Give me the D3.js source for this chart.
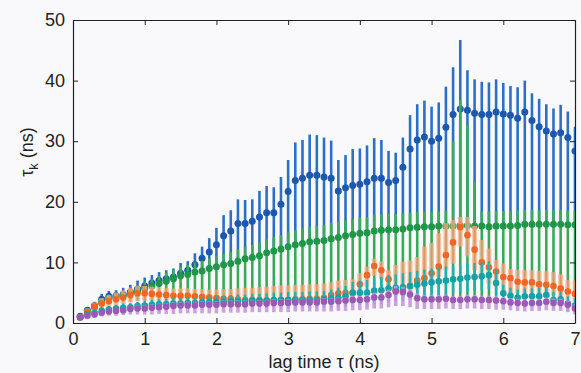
<!DOCTYPE html>
<html><head><meta charset="utf-8">
<script src="https://cdn.jsdelivr.net/npm/d3@7"></script>
<style>
html,body{margin:0;padding:0;background:#f9f9fc;}
svg{display:block;font-family:"Liberation Sans",Arial,Helvetica,sans-serif;}
</style></head><body>
<svg id="c" width="581" height="373"></svg>
<script>
const lag = [0.1,0.2,0.3,0.4,0.5,0.6,0.7,0.8,0.9,1.0,1.1,1.2,1.3,1.4,1.5,1.6,1.7,1.8,1.9,2.0,2.1,2.2,2.3,2.4,2.5,2.6,2.7,2.8,2.9,3.0,3.1,3.2,3.3,3.4,3.5,3.6,3.7,3.8,3.9,4.0,4.1,4.2,4.3,4.4,4.5,4.6,4.7,4.8,4.9,5.0,5.1,5.2,5.3,5.4,5.5,5.6,5.7,5.8,5.9,6.0,6.1,6.2,6.3,6.4,6.5,6.6,6.7,6.8,6.9,7.0];

const blueMean = [1.1,2.1,2.9,3.9,4.4,4.5,4.7,5.1,5.6,6.1,6.6,7.0,7.3,7.6,8.2,8.7,9.6,10.7,11.7,12.9,14.4,15.2,16.4,16.4,16.8,17.5,18.2,18.2,19.6,21.7,23.5,23.9,24.4,24.4,24.1,23.9,21.8,22.3,22.7,22.9,23.3,23.9,23.9,23.2,23.5,25.7,28.7,30.2,30.7,30.0,30.5,32.3,34.4,35.3,35.1,34.6,34.4,34.4,34.8,34.5,34.3,33.8,34.8,33.4,32.4,31.7,31.2,31.4,30.6,28.4];
const blueHi = [1.5,2.6,3.5,4.8,5.3,5.4,5.8,6.3,7.0,7.5,7.9,8.4,8.7,9.0,9.9,10.2,11.5,12.6,14.0,15.7,17.8,18.6,20.4,20.3,20.4,21.8,22.6,22.4,24.1,26.9,29.8,30.2,31.1,31.0,30.6,30.1,26.9,27.7,28.7,28.8,29.3,30.5,30.2,28.4,28.1,30.6,34.3,36.1,36.7,35.7,36.4,39.0,42.2,46.7,41.7,40.2,39.8,39.7,40.2,39.6,39.1,38.9,40.0,37.9,37.0,36.1,35.4,36.0,34.9,32.4];
const blueLo = [0.7,1.6,2.3,3.1,3.6,3.7,3.9,4.3,4.7,5.2,6.1,6.5,6.9,7.3,7.8,8.0,8.4,8.6,9.0,9.3,9.6,9.8,10.2,10.6,10.8,11.1,11.6,11.9,12.2,12.6,12.9,13.1,13.4,13.5,13.6,13.9,14.1,14.4,14.6,14.8,14.9,15.2,15.3,15.4,15.4,15.5,15.7,15.8,15.9,15.9,16.0,16.0,16.0,16.1,16.1,16.0,16.0,15.9,16.0,16.0,16.0,16.1,16.3,16.3,16.3,16.3,16.3,16.3,16.2,16.2];

const greenMean = [1.0,1.9,2.6,3.4,4.0,4.2,4.5,4.9,5.3,5.7,6.1,6.5,6.9,7.3,7.8,8.0,8.4,8.6,9.0,9.3,9.6,9.8,10.2,10.6,10.8,11.1,11.6,11.9,12.2,12.6,12.9,13.1,13.4,13.5,13.6,13.9,14.1,14.4,14.6,14.8,14.9,15.2,15.3,15.4,15.4,15.5,15.7,15.8,15.9,15.9,16.0,16.0,16.0,16.1,16.1,16.0,16.0,15.9,16.0,16.0,16.0,16.1,16.3,16.3,16.3,16.3,16.3,16.3,16.2,16.2];
const greenHi = [1.3,2.3,3.1,4.0,4.7,4.9,5.3,5.8,6.3,6.8,7.3,7.8,8.3,8.8,9.3,9.6,10.0,10.3,10.7,11.0,11.4,11.7,12.2,12.6,12.9,13.3,13.8,14.2,14.5,15.0,15.3,15.6,15.9,16.1,16.2,16.5,16.7,17.0,17.2,17.4,17.5,17.8,17.9,18.0,18.0,18.1,18.2,18.3,18.3,18.3,18.4,18.5,30.0,36.8,32.7,23.3,18.4,18.4,18.5,18.5,18.5,18.6,18.7,18.7,18.7,18.7,18.7,18.7,18.6,18.6];
const greenLo = [0.7,1.5,2.1,2.7,3.1,3.3,3.4,3.6,3.7,3.8,3.8,3.8,3.8,3.8,3.8,3.8,3.8,3.8,3.8,3.8,3.8,3.8,3.8,3.8,3.8,3.8,3.8,3.8,3.8,3.8,3.8,3.8,3.8,3.8,3.8,4.0,4.0,4.0,4.0,4.0,4.0,4.0,4.0,4.0,4.0,4.0,4.0,4.0,4.0,4.0,4.0,4.0,4.0,4.0,4.0,4.0,4.0,4.0,4.5,4.5,4.5,4.5,4.5,4.5,4.5,4.5,4.5,4.5,4.5,4.5];

const orangeMean = [1.0,1.8,2.7,3.2,3.6,3.9,4.2,4.6,4.9,4.9,4.8,4.7,4.6,4.5,4.5,4.5,4.4,4.3,4.2,4.1,4.0,4.0,3.9,3.8,3.8,3.8,3.7,3.7,3.8,3.8,3.9,3.9,4.0,4.0,4.1,4.6,4.9,5.0,5.0,6.4,7.9,9.4,8.7,7.2,5.4,5.4,6.1,7.0,7.4,8.2,9.3,11.2,13.3,15.8,14.5,12.1,10.0,9.2,8.5,7.6,7.4,6.8,6.7,6.7,6.4,6.3,6.1,5.7,5.2,4.8];
const orangeHi = [1.4,2.4,3.4,4.1,4.6,5.0,5.4,5.8,6.1,6.1,6.0,5.9,5.8,5.7,5.7,5.7,5.6,5.6,5.5,5.5,5.6,5.6,5.7,5.8,5.8,5.9,6.0,6.1,6.2,6.2,6.3,6.3,6.4,6.4,6.5,6.7,7.0,7.1,7.2,8.2,9.3,10.6,10.2,8.7,9.6,10.1,10.3,10.9,12.6,13.2,14.8,16.5,17.0,17.5,17.5,16.0,13.7,12.3,10.4,9.8,8.9,8.8,8.7,8.7,8.6,8.5,8.4,8.0,7.1,7.0];
const orangeLo = [0.6,1.3,2.0,2.4,2.7,2.9,3.1,3.4,3.6,3.6,3.5,3.5,3.4,3.4,3.4,3.4,3.3,3.3,3.3,3.2,3.2,3.2,3.1,3.1,3.1,3.1,3.0,3.0,3.1,3.1,3.1,3.1,3.2,3.2,3.3,3.5,3.7,3.7,3.8,4.3,6.0,7.8,7.2,5.4,4.6,4.5,4.9,5.4,6.0,6.5,7.6,8.7,9.8,12.6,11.0,8.7,7.6,6.5,6.0,4.9,4.9,4.9,4.9,4.9,4.8,4.7,4.6,4.3,3.8,3.6];

const cyanMean = [0.9,1.4,1.7,2.0,2.2,2.4,2.5,2.6,2.8,2.9,3.0,3.1,3.1,3.2,3.2,3.3,3.3,3.4,3.4,3.5,3.5,3.6,3.6,3.6,3.7,3.7,3.7,3.8,3.8,3.8,3.8,3.8,3.8,3.8,3.9,4.0,4.2,4.4,5.0,5.0,5.0,5.3,5.4,5.7,5.8,5.9,6.1,6.3,6.5,6.7,6.9,7.0,7.2,7.3,7.5,7.6,7.7,7.9,6.6,4.9,4.5,4.2,4.4,4.4,4.4,4.6,3.8,3.9,3.2,2.9];
const cyanHi = [1.2,1.8,2.2,2.6,2.8,3.0,3.2,3.3,3.5,3.7,3.8,3.9,4.0,4.1,4.1,4.2,4.2,4.3,4.4,4.5,4.5,4.6,4.7,4.7,4.8,4.8,4.9,5.0,5.0,5.1,5.1,5.1,5.2,5.2,5.3,5.5,5.8,6.1,6.8,7.0,7.1,7.5,7.6,7.9,8.0,8.2,8.4,8.6,8.8,9.0,9.2,9.3,9.5,9.6,9.8,9.9,10.0,10.2,8.9,6.3,5.8,5.5,5.7,5.7,5.8,6.0,5.1,5.2,4.4,4.1];
const cyanLo = [0.6,1.0,1.2,1.4,1.6,1.8,1.8,1.9,2.1,2.1,2.2,2.3,2.2,2.3,2.3,2.4,2.4,2.5,2.4,2.5,2.5,2.6,2.5,2.5,2.6,2.6,2.5,2.6,2.6,2.5,2.5,2.5,2.4,2.4,2.5,2.5,2.6,2.7,3.2,3.0,2.9,3.1,3.2,3.5,3.6,3.6,3.8,4.0,4.2,4.4,4.6,4.7,4.9,5.0,5.2,5.3,5.4,5.6,4.3,3.5,3.2,2.9,3.1,3.1,3.0,3.2,2.5,2.6,2.0,1.7];

const purpleMean = [0.9,1.2,1.4,1.7,1.9,2.0,2.1,2.3,2.4,2.4,2.5,2.6,2.7,2.8,2.9,2.9,2.9,3.0,3.0,3.0,3.1,3.1,3.1,3.1,3.2,3.2,3.2,3.3,3.3,3.3,3.4,3.4,3.4,3.4,3.5,3.5,3.6,3.7,3.8,3.8,3.9,4.2,4.2,4.6,5.2,5.1,4.7,4.1,3.9,3.9,3.9,4.0,3.8,3.8,3.9,3.9,3.8,3.8,3.7,3.6,3.4,3.3,3.2,3.3,3.3,3.5,3.3,3.3,3.0,2.4];
const purpleHi = [1.2,1.5,1.8,2.1,2.4,2.5,2.6,2.8,3.0,3.0,3.1,3.2,3.3,3.4,3.5,3.5,3.5,3.6,3.6,3.6,3.7,3.7,3.7,3.7,3.8,3.8,3.8,3.9,3.9,3.9,4.0,4.0,4.0,4.0,4.1,4.1,4.2,4.3,4.5,4.5,4.6,5.0,5.0,5.5,6.1,6.0,5.6,4.9,4.6,4.6,4.6,4.7,4.5,4.5,4.6,4.6,4.5,4.5,4.4,4.3,4.1,4.0,3.9,4.0,4.0,4.2,4.0,4.0,3.7,3.1];
const purpleLo = [0.6,0.8,0.9,1.1,1.2,1.2,1.3,1.4,1.4,1.4,1.4,1.5,1.5,1.5,1.6,1.6,1.6,1.6,1.6,1.6,1.7,1.7,1.7,1.7,1.8,1.8,1.8,1.8,1.8,1.8,1.9,1.9,1.9,1.9,1.9,1.9,2.0,2.0,2.1,2.1,2.2,2.4,2.4,2.6,2.8,2.8,2.6,2.3,2.3,2.3,2.3,2.4,2.3,2.3,2.4,2.4,2.3,2.3,2.2,2.2,2.1,2.0,1.9,2.0,2.0,2.1,2.0,2.0,1.8,1.4];

const xTicks = [0,1,2,3,4,5,6,7];
const yTicks = [0,10,20,30,40,50];

const W = 581, H = 373;
const L = 73, R = 575, T = 20, B = 323;
const x = d3.scaleLinear().domain([0,7]).range([L,R]);
const y = d3.scaleLinear().domain([0,50]).range([B,T]);

const svg = d3.select("#c");
svg.append("rect").attr("width",W).attr("height",H).attr("fill","#f9f9fc");
svg.append("defs").append("clipPath").attr("id","clip")
  .append("rect").attr("x",L).attr("y",T).attr("width",R-L).attr("height",B-T);

const plot = svg.append("g").attr("clip-path","url(#clip)");

const series = [
  {mean:blueMean, lo:blueLo, hi:blueHi, bar:"#2b6fc8", barW:2.6, barOp:1, dot:"#1c58ae", r:3.5},
  {mean:greenMean, lo:greenLo, hi:greenHi, bar:"#38aa58", barW:2.6, barOp:1, dot:"#1f9648", r:3.5},
  {mean:orangeMean, lo:orangeLo, hi:orangeHi, bar:"#f8b08a", barW:5, barOp:0.75, dot:"#f26522", r:3.3, inner:"#f4834a"},
  {mean:cyanMean, lo:cyanLo, hi:cyanHi, bar:"#22b1b1", barW:2.4, barOp:1, dot:"#12a3a6", r:3.3},
  {mean:purpleMean, lo:purpleLo, hi:purpleHi, bar:"#c896da", barW:3.6, barOp:0.9, dot:"#9b59b6", r:3.3}
];

series.forEach(s => {
  const rows = lag.map((t,i) => ({t, m:s.mean[i], lo:s.lo[i], hi:s.hi[i]}));
  const g = plot.append("g");
  g.selectAll("line.bar").data(rows).join("line").attr("class","bar")
    .attr("x1",d=>x(d.t)).attr("x2",d=>x(d.t))
    .attr("y1",d=>y(d.lo)).attr("y2",d=>y(d.hi))
    .attr("stroke",s.bar).attr("stroke-width",s.barW).attr("stroke-opacity",s.barOp);
  if (s.inner) {
    g.selectAll("line.inner").data(rows).join("line").attr("class","inner")
      .attr("x1",d=>x(d.t)).attr("x2",d=>x(d.t))
      .attr("y1",d=>y(d.lo)).attr("y2",d=>y(d.hi))
      .attr("stroke",s.inner).attr("stroke-width",1.2).attr("stroke-opacity",0.5);
  }
  g.selectAll("circle").data(rows).join("circle")
    .attr("cx",d=>x(d.t)).attr("cy",d=>y(d.m)).attr("r",s.r).attr("fill",s.dot);
});

// axes (box with inward ticks on all sides)
const fs = "18px";
const ax = svg.append("g").attr("transform",`translate(0,${B})`)
  .call(d3.axisBottom(x).tickValues(xTicks).tickFormat(d3.format("d")).tickSizeInner(-5).tickSizeOuter(0).tickPadding(9));
const axT = svg.append("g").attr("transform",`translate(0,${T})`)
  .call(d3.axisTop(x).tickValues(xTicks).tickFormat("").tickSizeInner(-5).tickSizeOuter(0));
const ay = svg.append("g").attr("transform",`translate(${L},0)`)
  .call(d3.axisLeft(y).tickValues(yTicks).tickFormat(d3.format("d")).tickSizeInner(-5).tickSizeOuter(0).tickPadding(8));
const ayR = svg.append("g").attr("transform",`translate(${R},0)`)
  .call(d3.axisRight(y).tickValues(yTicks).tickFormat("").tickSizeInner(-5).tickSizeOuter(0));
[ax,axT,ay,ayR].forEach(a=>{
  a.select(".domain").attr("stroke","#222").attr("stroke-width",1.2);
  a.selectAll(".tick line").attr("stroke","#222").attr("stroke-width",1);
  a.selectAll("text").attr("font-size",fs).attr("fill","#222")
    .attr("font-family","'Liberation Sans',Arial,Helvetica,sans-serif");
});

// axis labels
svg.append("text").attr("x",(L+R)/2).attr("y",368).attr("text-anchor","middle")
  .attr("font-size","18px").attr("fill","#222").text("lag time τ (ns)");
const yl = svg.append("text").attr("transform",`translate(33,${152}) rotate(-90)`)
  .attr("text-anchor","middle").attr("font-size","18px").attr("fill","#222");
yl.append("tspan").text("τ");
yl.append("tspan").attr("font-size","13px").attr("dy","5").text("k");
yl.append("tspan").attr("dy","-5").text(" (ns)");
</script>
</body></html>
